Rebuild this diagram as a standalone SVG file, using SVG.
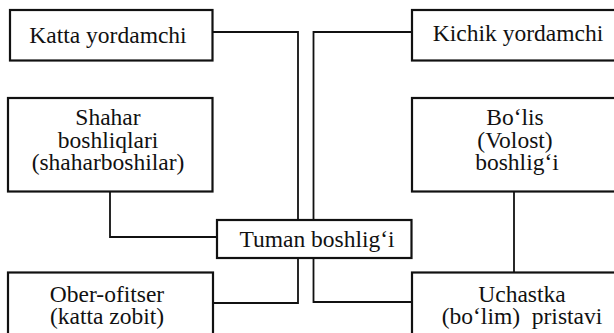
<svg xmlns="http://www.w3.org/2000/svg" width="614" height="333" viewBox="0 0 614 333">
<style>
.box{fill:#fff;stroke:#111;stroke-width:2.2}
.con{fill:none;stroke:#111;stroke-width:1.8}
</style>
<rect width="614" height="333" fill="#fff"/>
<g id="connectors">
<polyline class="con" points="213,32 298,32 298,220"/>
<polyline class="con" points="412,32 313.5,32 313.5,220"/>
<polyline class="con" points="110,192 110,237 217,237"/>
<polyline class="con" points="298,258 298,303 213,303"/>
<polyline class="con" points="313.5,258 313.5,302 412,302"/>
<line class="con" x1="514" y1="192" x2="514" y2="272"/>
</g>
<g id="katta">
<rect class="box" x="10" y="10" width="202.5" height="50.5"/>
<text x="108" y="43" font-family="'Liberation Serif', 'Times New Roman', Times, serif" font-size="23.5" fill="#111" text-anchor="middle">Katta yordamchi</text>
</g>
<g id="kichik">
<rect class="box" x="412" y="10" width="210" height="50.5"/>
<text x="518" y="41" font-family="'Liberation Serif', 'Times New Roman', Times, serif" font-size="23.5" fill="#111" text-anchor="middle">Kichik yordamchi</text>
</g>
<g id="shahar">
<rect class="box" x="8" y="98" width="204.5" height="93.5"/>
<text x="108" y="125" font-family="'Liberation Serif', 'Times New Roman', Times, serif" font-size="23.5" fill="#111" text-anchor="middle">Shahar</text>
<text x="108" y="147.5" font-family="'Liberation Serif', 'Times New Roman', Times, serif" font-size="23.5" fill="#111" text-anchor="middle">boshliqlari</text>
<text x="108" y="170" font-family="'Liberation Serif', 'Times New Roman', Times, serif" font-size="23.5" fill="#111" text-anchor="middle">(shaharboshilar)</text>
</g>
<g id="bolis">
<rect class="box" x="412" y="98" width="210" height="93.5"/>
<text x="515" y="125" font-family="'Liberation Serif', 'Times New Roman', Times, serif" font-size="23.5" fill="#111" text-anchor="middle">Bo‘lis</text>
<text x="515" y="147.5" font-family="'Liberation Serif', 'Times New Roman', Times, serif" font-size="23.5" fill="#111" text-anchor="middle">(Volost)</text>
<text x="517" y="170" font-family="'Liberation Serif', 'Times New Roman', Times, serif" font-size="23.5" fill="#111" text-anchor="middle">boshlig‘i</text>
</g>
<g id="tuman">
<rect class="box" x="217" y="220" width="194.5" height="38"/>
<text x="317" y="247" font-family="'Liberation Serif', 'Times New Roman', Times, serif" font-size="23.5" fill="#111" text-anchor="middle">Tuman boshlig‘i</text>
</g>
<g id="ober">
<rect class="box" x="8" y="272.5" width="205" height="70"/>
<text x="107" y="302" font-family="'Liberation Serif', 'Times New Roman', Times, serif" font-size="23.5" fill="#111" text-anchor="middle">Ober-ofitser</text>
<text x="107" y="324" font-family="'Liberation Serif', 'Times New Roman', Times, serif" font-size="23.5" fill="#111" text-anchor="middle">(katta zobit)</text>
</g>
<g id="uchastka">
<rect class="box" x="412" y="272.5" width="210" height="70"/>
<text x="522" y="302" font-family="'Liberation Serif', 'Times New Roman', Times, serif" font-size="23.5" fill="#111" text-anchor="middle">Uchastka</text>
<text x="522" y="324" font-family="'Liberation Serif', 'Times New Roman', Times, serif" font-size="23.5" fill="#111" text-anchor="middle" xml:space="preserve">(bo‘lim)  pristavi</text>
</g>
</svg>
